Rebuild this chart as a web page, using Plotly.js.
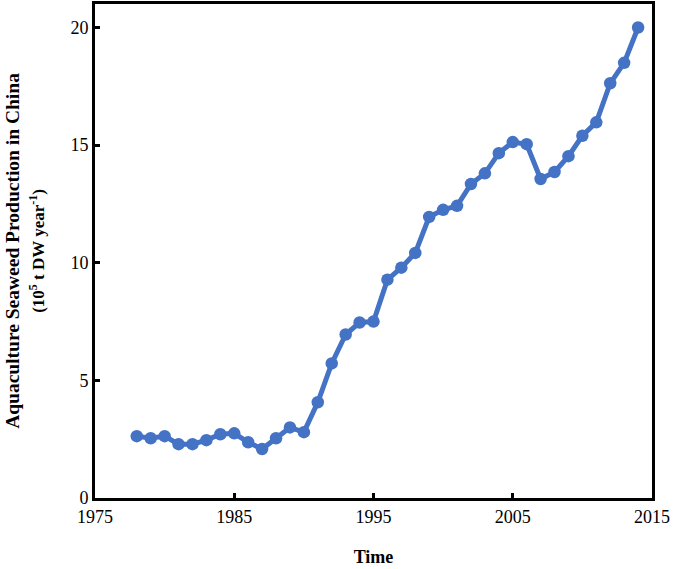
<!DOCTYPE html>
<html>
<head>
<meta charset="utf-8">
<script src="https://cdn.plot.ly/plotly-3.0.1.min.js"></script>
<style>html,body{margin:0;padding:0;background:#fff;}#chart{width:675px;height:569px;}</style>
</head>
<body>
<div id="chart"></div>
<script>
const years = [1978,1979,1980,1981,1982,1983,1984,1985,1986,1987,1988,1989,1990,1991,1992,1993,1994,1995,1996,1997,1998,1999,2000,2001,2002,2003,2004,2005,2006,2007,2008,2009,2010,2011,2012,2013,2014];
const production = [2.63,2.54,2.63,2.29,2.29,2.46,2.71,2.75,2.37,2.08,2.54,3.0,2.8,4.07,5.72,6.95,7.46,7.5,9.28,9.79,10.42,11.95,12.25,12.42,13.35,13.8,14.66,15.13,15.04,13.56,13.86,14.53,15.4,15.97,17.63,18.5,20.0];
const xTicks = [1975,1985,1995,2005,2015];
const yTicks = [0,5,10,15,20];

const fam = '"Liberation Serif", "Times New Roman", serif';
const tickFont = {family: fam, color: '#000', size: 18};
const titleFont = {family: fam, color: '#000', size: 19.5};

Plotly.newPlot('chart', [{
  x: years, y: production, type: 'scatter', mode: 'lines+markers',
  line: {color: '#4472C4', width: 5},
  marker: {color: '#4472C4', size: 12.5},
  hoverinfo: 'skip'
}], {
  width: 675, height: 569,
  margin: {l: 95, r: 23, t: 4, b: 71},
  paper_bgcolor: '#fff', plot_bgcolor: '#fff',
  showlegend: false,
  font: tickFont,
  xaxis: {
    range: [1975, 2015], tickvals: xTicks, ticktext: xTicks.map(String),
    showgrid: false, zeroline: false,
    showline: true, linecolor: '#000', linewidth: 3, mirror: true,
    ticks: 'inside', ticklen: 5, tickwidth: 3, tickcolor: '#000',
    tickfont: tickFont,
    title: {text: '<b>Time</b>', font: {family: fam, color: '#000', size: 18}, standoff: 25}
  },
  yaxis: {
    range: [0, 21], tickvals: yTicks, ticktext: yTicks.map(String),
    showgrid: false, zeroline: false,
    showline: true, linecolor: '#000', linewidth: 3, mirror: true,
    ticks: 'inside', ticklen: 5, tickwidth: 3, tickcolor: '#000',
    tickfont: tickFont,
    title: {text: '<b>Aquaculture Seaweed Production in China<br><span style="font-size:17px">(10<sup>5</sup> t DW year<sup>-1</sup>)</span></b>', font: titleFont, standoff: 21}
  }
}, {displayModeBar: false, staticPlot: true});
</script>
</body>
</html>
